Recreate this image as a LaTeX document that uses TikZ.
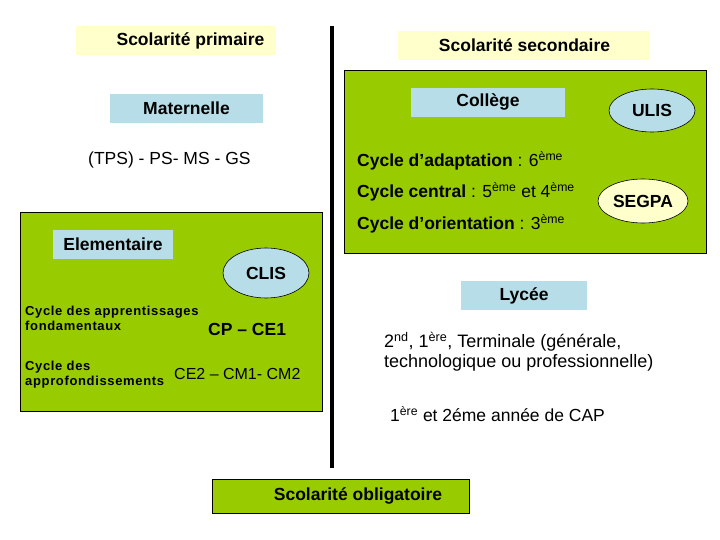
\documentclass[tikz,border=0pt]{standalone}
\usepackage{fontspec}
\setmainfont{Liberation Sans}
\usetikzlibrary{shapes.geometric}
\definecolor{vert}{HTML}{99CC00}
\definecolor{jaune}{HTML}{FFFFCC}
\definecolor{bleu}{HTML}{B7DEE8}
\tikzset{
  ybox/.style={fill=jaune, inner sep=0pt},
  bbox/.style={fill=bleu, inner sep=0pt, font=\fontsize{17.5}{20}\selectfont\bfseries},
  gbox/.style={fill=vert, draw=black, line width=1pt},
  ell/.style={ellipse, draw=black, line width=0.6pt, inner sep=0pt, font=\fontsize{17.5}{20}\selectfont\bfseries},
  txt/.style={anchor=west, inner sep=0pt, font=\fontsize{17.5}{20}\selectfont},
  btxt/.style={inner sep=0pt, font=\fontsize{17.5}{20}\selectfont\bfseries},
  small/.style={anchor=west, inner sep=0pt, align=left, font=\fontsize{13}{15}\selectfont\bfseries\addfontfeature{LetterSpace=5}},
}
\begin{document}
\begin{tikzpicture}[x=1pt,y=-1pt]
\useasboundingbox (0,0) rectangle (720,540);
% green areas
\path[gbox] (344,71) rectangle (706,253);
\path[gbox] (20,213) rectangle (322,411);
% vertical divider
\draw[line width=4pt] (332,26) -- (332,468);
% headers
\node[ybox, minimum width=200, minimum height=29] (prim) at (176,40.5) {};
\node[btxt] (primt) at (190.5,40.5) {Scolarité primaire};
\node[ybox, minimum width=252, minimum height=29] (sec) at (524,45.5) {};
\node[btxt] (sect) at (524.5,45.5) {Scolarité secondaire};
% primaire
\node[bbox, minimum width=153, minimum height=29] (mat) at (186.5,108.5) {Maternelle};
\node[txt] (tps) at (88,160) {(TPS) - PS- MS - GS};
\node[bbox, minimum width=120, minimum height=29] (elem) at (113,244.5) {Elementaire};
\node[ell, fill=bleu, minimum width=86, minimum height=50] (clis) at (266,273) {CLIS};
\node[small] (cap1) at (25,318.5) {Cycle des apprentissages\\fondamentaux};
\node[anchor=west, inner sep=0pt, font=\fontsize{17.5}{20}\selectfont\bfseries] (cpce) at (208,329) {CP – CE1};
\node[small] (capr) at (25,374.5) {Cycle des\\approfondissements};
\node[anchor=west, inner sep=0pt, font=\fontsize{16}{18}\selectfont] (ce2) at (174,374) {CE2 – CM1- CM2};
% secondaire
\node[bbox, minimum width=154, minimum height=29, anchor=north] (coll) at (488,88) {};
\node[btxt] (collt) at (488,102) {Collège};
\node[ell, fill=bleu, minimum width=86, minimum height=43] (ulis) at (652,110.5) {ULIS};
\node[ell, fill=jaune, minimum width=90, minimum height=44] (segpa) at (643,201) {SEGPA};
\node[txt] (ad) at (357,161) {\textbf{Cycle d’adaptation} : 6\textsuperscript{ème}};
\node[txt] (ce) at (357,192) {\textbf{Cycle central} : 5\textsuperscript{ème} et 4\textsuperscript{ème}};
\node[txt] (or) at (357,224) {\textbf{Cycle d’orientation} : 3\textsuperscript{ème}};
\node[bbox, minimum width=126, minimum height=29] (lyc) at (524,295.5) {Lycée};
\node[anchor=west, inner sep=0pt, align=left, font=\fontsize{18}{20}\selectfont] (term) at (384,352) {2\textsuperscript{nd}, 1\textsuperscript{ère}, Terminale (générale,\\technologique ou professionnelle)};
\node[anchor=west, inner sep=0pt, font=\fontsize{17.5}{20}\selectfont] (capt) at (390,414) {1\textsuperscript{ère} et 2éme année de CAP};
% obligatoire
\node[gbox, minimum width=257, minimum height=34, inner sep=0pt] (obl) at (340.5,496) {};
\node[btxt] (oblt) at (358,496) {Scolarité obligatoire};
\end{tikzpicture}
\end{document}
